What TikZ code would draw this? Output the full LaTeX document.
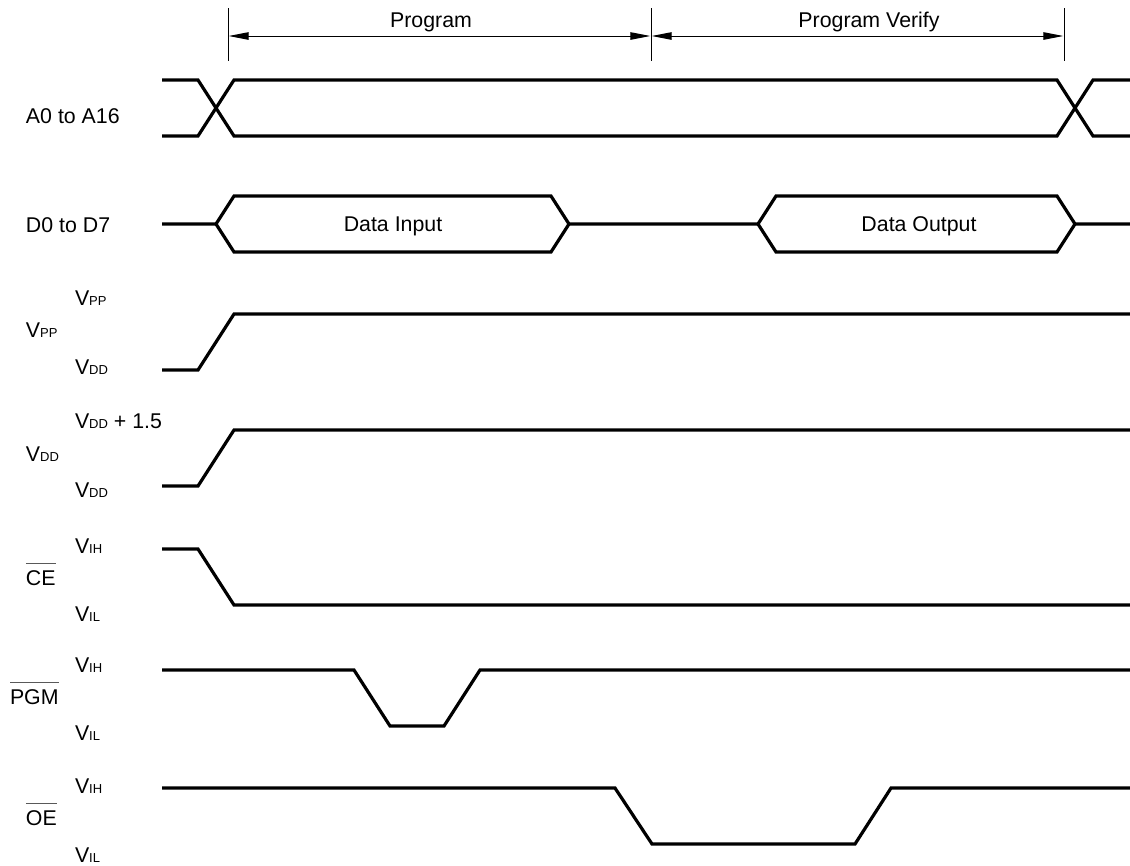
\documentclass[tikz,border=0pt]{standalone}
\usepackage{fontspec}
\setmainfont{Liberation Sans}
\usetikzlibrary{arrows.meta}
\newcommand{\lowtxt}[1]{{\fontsize{9.75}{10}\selectfont #1}}
\newcommand{\ovl}[1]{\leavevmode\vbox{{\color{black!65}\hrule height 0.7pt}\kern 4.5pt\hbox{#1}}}
\tikzset{
 wave/.style={line width=2.4pt,line join=miter,black},
 thinline/.style={line width=0.75pt,black},
 span/.style={line width=0.75pt,black,{Triangle[length=15pt,width=5.6pt]}-{Triangle[length=15pt,width=5.6pt]},shorten <=0.5pt,shorten >=0.5pt},
 lab/.style={anchor=base west,inner sep=0pt,outer sep=0pt,font=\fontsize{16}{18}\selectfont,text=black},
 ctr/.style={anchor=base,inner sep=0pt,outer sep=0pt,font=\fontsize{16}{18}\selectfont,text=black},
}
\begin{document}
\begin{tikzpicture}[x=0.75pt,y=-0.75pt]
\useasboundingbox (0,0) rectangle (1130,865);
% timing marks
\coordinate (m1t) at (228,8); \coordinate (m1b) at (228,61);
\coordinate (m2t) at (651,8); \coordinate (m2b) at (651,61);
\coordinate (m3t) at (1064,8); \coordinate (m3b) at (1064,61);
\coordinate (a1) at (228,36); \coordinate (a2) at (651,36); \coordinate (a3) at (1064,36);
\draw[thinline] (m1t) -- (m1b);
\draw[thinline] (m2t) -- (m2b);
\draw[thinline] (m3t) -- (m3b);
\draw[span] (a1) -- (a2);
\draw[span] (a2) -- (a3);
\node[ctr] (prog) at (431,27) {Program};
\node[ctr] (progv) at (869,27) {Program Verify};
% A0-A16
\draw[wave] (162,80) -- (198,80) -- (234,136) -- (1057,136) -- (1093,80) -- (1130,80);
\draw[wave] (162,136) -- (198,136) -- (234,80) -- (1057,80) -- (1093,136) -- (1130,136);
% D0-D7
\draw[wave] (162,224) -- (216,224) -- (234,196) -- (551,196) -- (569,224) -- (758,224) -- (776,196) -- (1057,196) -- (1075,224) -- (1130,224);
\draw[wave] (216,224) -- (234,252) -- (551,252) -- (569,224);
\draw[wave] (758,224) -- (776,252) -- (1057,252) -- (1075,224);
% levels
\draw[wave] (162,370) -- (198,370) -- (234,314) -- (1130,314);
\draw[wave] (162,486) -- (198,486) -- (234,430) -- (1130,430);
\draw[wave] (162,549) -- (198,549) -- (234,605) -- (1130,605);
\draw[wave] (162,670) -- (354,670) -- (390,726) -- (444,726) -- (480,670) -- (1130,670);
\draw[wave] (162,788) -- (615,788) -- (652,844) -- (855,844) -- (891,788) -- (1130,788);
% signal names
\node[lab] (sa) at (26,123) {A0 to A16};
\node[lab] (sd) at (26,232) {D0 to D7};
\node[lab] (spp) at (26,337) {V\lowtxt{PP}};
\node[lab] (sdd) at (26,461) {V\lowtxt{DD}};
\node[lab] (sce) at (26,585) {\ovl{CE}};
\node[lab] (spgm) at (10,704) {\ovl{PGM}};
\node[lab] (soe) at (26,825) {\ovl{OE}};
% level names
\node[lab] (l1) at (75,305) {V\lowtxt{PP}};
\node[lab] (l2) at (75,374) {V\lowtxt{DD}};
\node[lab] (l3) at (75,428) {V\lowtxt{DD} + 1.5};
\node[lab] (l4) at (75,497) {V\lowtxt{DD}};
\node[lab] (l5) at (75,553) {V\lowtxt{IH}};
\node[lab] (l6) at (75,621) {V\lowtxt{IL}};
\node[lab] (l7) at (75,672) {V\lowtxt{IH}};
\node[lab] (l8) at (75,740) {V\lowtxt{IL}};
\node[lab] (l9) at (75,793) {V\lowtxt{IH}};
\node[lab] (l10) at (75,862) {V\lowtxt{IL}};
\node[ctr] (din) at (393,231) {Data Input};
\node[ctr] (dout) at (919,231) {Data Output};
\end{tikzpicture}
\end{document}
